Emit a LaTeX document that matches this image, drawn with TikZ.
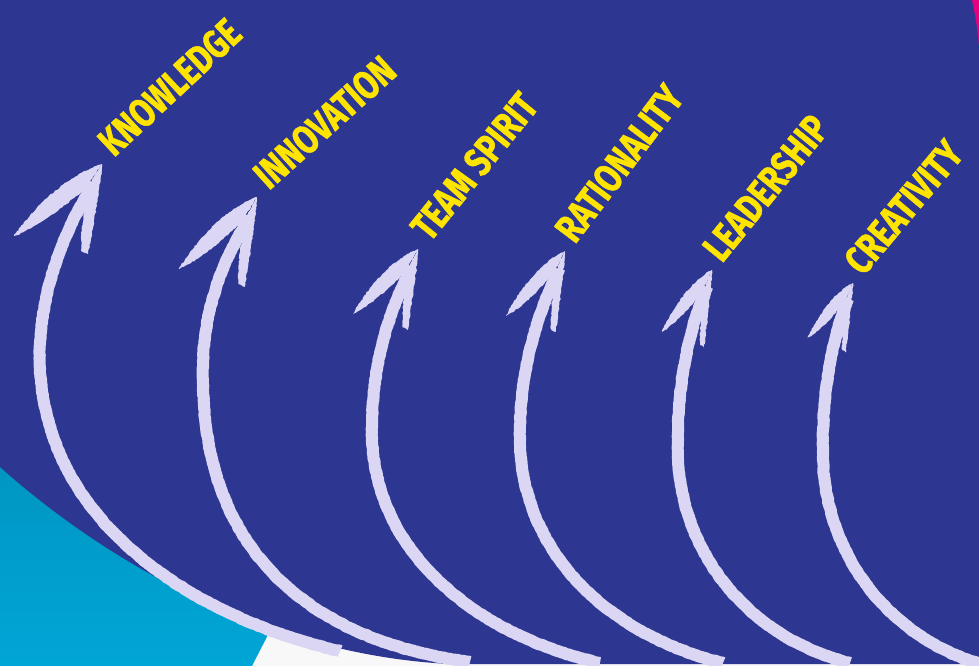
\documentclass[tikz,border=0pt]{standalone}
\usepackage{fontspec}
\newfontfamily\skillfont[FakeStretch=0.78, BoldFeatures={FakeBold=1.2}]{Fira Sans}
\usetikzlibrary{decorations.pathmorphing}

\definecolor{boardblue}{RGB}{45,55,145}
\definecolor{chalkcol}{RGB}{218,214,243}
\definecolor{skillyellow}{RGB}{255,228,0}
\definecolor{seacyan}{RGB}{0,166,214}
\definecolor{deepcyan}{RGB}{0,146,190}
\definecolor{rosemag}{RGB}{229,0,126}
\definecolor{paper}{RGB}{248,248,248}

\tikzset{
	shaft/.style={draw=chalkcol, line width=12pt, line join=round, decorate,
		decoration={random steps, segment length=2pt, amplitude=0.4pt}},
	headfill/.style={fill=chalkcol, decorate,
		decoration={random steps, segment length=2pt, amplitude=0.6pt}},
	skill/.style={text=skillyellow, font=\skillfont\bfseries\fontsize{40}{40}\selectfont,
		inner sep=0pt, anchor=base west}
}

% arrow head: tip, x scale, y scale
\newcommand{\chalkhead}[3]{%
	\begin{scope}[shift={(#1)}, xscale=#2, yscale=#3]
		\fill[headfill] (0,0) .. controls (-30,10) and (-62,35) .. (-88,72)
			.. controls (-66,64) and (-40,44) .. (-18,26) -- cycle;
		\fill[headfill] (0,0) .. controls (-3,30) and (-8,60) .. (-14,90)
			-- (-21,87) .. controls (-21,62) and (-18,40) .. (-10,16) -- cycle;
		\fill[headfill] (0,0) -- (-14,23) -- (-2,19) -- cycle;
	\end{scope}}

\begin{document}
\begin{tikzpicture}[x=1pt, y=-1pt]
			%%%%% START %%%%%
			\useasboundingbox (0,0) rectangle (979,666);
			
			\fill[paper] (0,0) rectangle (979,666);
			\shade[top color=deepcyan, bottom color=seacyan] (0,420) -- (296,580) -- (252,666) -- (0,666) -- cycle;
			\fill[rosemag] (950,0) rectangle (979,90);
			\fill[boardblue] (0,0) -- (972,0) .. controls (975,15) and (978,30) .. (979,48) -- (979,664)
				-- (450,664) .. controls (270,655) and (110,565) .. (0,467) -- cycle;
			
			% arrow 1
			\coordinate (tail1) at (340,651);
			\coordinate (bend1) at (40,370);
			\coordinate (neck1) at (94,184);
			\coordinate (tip1) at (102,164);
			\draw[shaft] (tail1) .. controls +(-120,-27) and +(10,170) .. (bend1)
				.. controls +(-4,-75) and +(-27,40) .. (neck1);
			\chalkhead{tip1}{1}{1}
			\node[skill, rotate=43] (knowledge) at ([shift={(12,-6)}]tip1) {KNOWLEDGE};
			
			% arrow 2
			\coordinate (tail2) at (470,662);
			\coordinate (bend2) at (203,385);
			\coordinate (neck2) at (250,217);
			\coordinate (tip2) at (257,197);
			\draw[shaft] (tail2) .. controls +(-150,-20) and +(3,175) .. (bend2)
				.. controls +(-3,-75) and +(-25,40) .. (neck2);
			\chalkhead{tip2}{0.89}{1}
			\node[skill, rotate=42] (innovation) at ([shift={(12,-6)}]tip2) {INNOVATION};
			
			% arrow 3
			\coordinate (tail3) at (600,663);
			\coordinate (bend3) at (372,440);
			\coordinate (neck3) at (412,267);
			\coordinate (tip3) at (418,249);
			\draw[shaft] (tail3) .. controls +(-130,-30) and +(5,110) .. (bend3)
				.. controls +(-2,-75) and +(-22,42) .. (neck3);
			\chalkhead{tip3}{0.74}{0.9}
			\node[skill, rotate=51] (teamspirit) at ([shift={(12,-6)}]tip3) {TEAM SPIRIT};
			
			% arrow 4
			\coordinate (tail4) at (723,663);
			\coordinate (bend4) at (520,445);
			\coordinate (neck4) at (559,269);
			\coordinate (tip4) at (565,251);
			\draw[shaft] (tail4) .. controls +(-120,-30) and +(4,105) .. (bend4)
				.. controls +(-2,-75) and +(-20,42) .. (neck4);
			\chalkhead{tip4}{0.67}{0.9}
			\node[skill, rotate=53] (rationality) at ([shift={(10,-6)}]tip4) {RATIONALITY};
			
			% arrow 5
			\coordinate (tail5) at (850,663);
			\coordinate (bend5) at (678,455);
			\coordinate (neck5) at (707,287);
			\coordinate (tip5) at (712,270);
			\draw[shaft] (tail5) .. controls +(-100,-25) and +(3,100) .. (bend5)
				.. controls +(-2,-72) and +(-17,40) .. (neck5);
			\chalkhead{tip5}{0.57}{0.86}
			\node[skill, rotate=51] (leadership) at ([shift={(10,-6)}]tip5) {LEADERSHIP};
			
			% arrow 6
			\coordinate (tail6) at (985,665);
			\coordinate (bend6) at (823,460);
			\coordinate (neck6) at (848,299);
			\coordinate (tip6) at (853,283);
			\draw[shaft] (tail6) .. controls +(-95,-25) and +(3,95) .. (bend6)
				.. controls +(-2,-68) and +(-15,38) .. (neck6);
			\chalkhead{tip6}{0.52}{0.77}
			\node[skill, rotate=50] (creativity) at ([shift={(10,-6)}]tip6) {CREATIVITY};
			
			%%%%% END %%%%%
\end{tikzpicture}
\end{document}
